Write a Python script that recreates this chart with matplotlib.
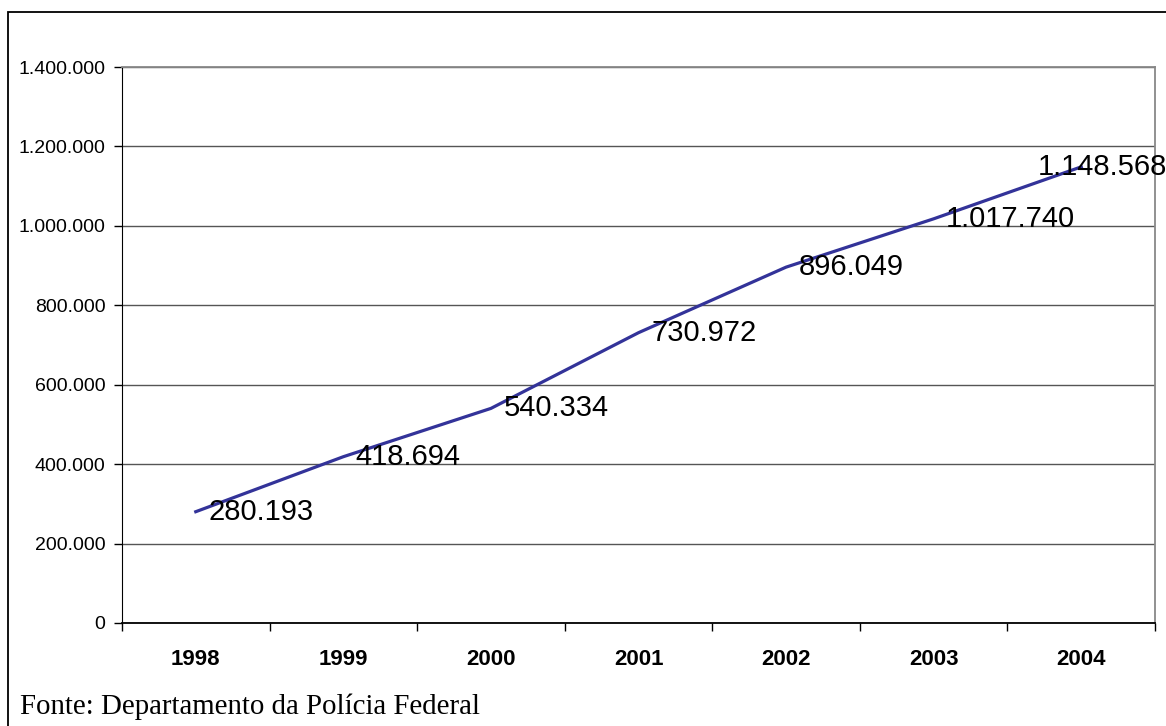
import matplotlib.pyplot as plt
from matplotlib.patches import Rectangle
from matplotlib.ticker import FuncFormatter, FixedLocator

# ==========================================================
# Data
# ==========================================================

years = ["1998", "1999", "2000", "2001", "2002", "2003", "2004"]
values = [280193, 418694, 540334, 730972, 896049, 1017740, 1148568]
y_ticks = [0, 200000, 400000, 600000, 800000, 1000000, 1200000, 1400000]


def br_fmt(v, pos=None):
    return f"{int(round(v)):,}".replace(",", ".")


# ==========================================================
# Figure
# ==========================================================

plt.rcParams["font.family"] = ["Liberation Sans", "DejaVu Sans"]

fig = plt.figure(figsize=(11.66, 7.26), dpi=100)
ax = fig.add_axes([0.1046, 0.1419, 0.8860, 0.7658])

# outer frame (top and left only reach the image)
fig.patches.append(Rectangle((8 / 1166, -0.1), 1.2, 1 - 12 / 726 + 0.1,
                             transform=fig.transFigure, fill=False,
                             edgecolor="black", linewidth=1.3))

x = list(range(len(years)))
ax.plot(x, values, color="#333399", linewidth=2.3, solid_joinstyle="round")

for i, v in enumerate(values):
    dx = 9 if i < len(values) - 1 else -31
    ax.annotate(br_fmt(v), (i, v), xytext=(dx, 0), textcoords="offset points",
                ha="left", va="center", fontsize=21, color="black")

ax.set_xlim(-0.5, len(years) - 0.5)
ax.set_ylim(0, 1400000)

ax.yaxis.set_major_locator(FixedLocator(y_ticks))
ax.yaxis.set_major_formatter(FuncFormatter(br_fmt))
ax.grid(axis="y", color="#555555", linewidth=1.0)
ax.set_axisbelow(True)

ax.set_xticks([i - 0.5 for i in range(len(years) + 1)])
ax.set_xticklabels([])
ax.set_xticks(x, minor=True)
ax.set_xticklabels(years, minor=True, fontsize=16, fontweight="bold")
ax.tick_params(axis="x", which="major", direction="out", length=6, width=1, color="black")
ax.tick_params(axis="x", which="minor", length=0, pad=19)
ax.tick_params(axis="y", direction="out", length=6, width=1, labelsize=14, pad=6)

ax.spines["left"].set_color("black")
ax.spines["bottom"].set_color("black")
ax.spines["bottom"].set_linewidth(1.3)
ax.spines["top"].set_color("#888888")
ax.spines["right"].set_color("#888888")
ax.spines["top"].set_linewidth(1.3)
ax.spines["right"].set_linewidth(1.3)

fig.text(20 / 1166, 1 - 714 / 726, "Fonte: Departamento da Polícia Federal",
         family=["Liberation Serif", "DejaVu Serif"], fontsize=20.8,
         ha="left", va="baseline")

fig.savefig("out.png", dpi=100)
